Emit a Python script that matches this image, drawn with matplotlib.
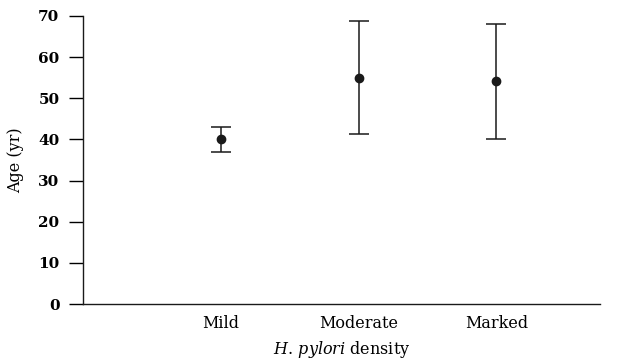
import matplotlib
matplotlib.use("Agg")
import matplotlib.pyplot as plt

categories = ["Mild", "Moderate", "Marked"]
means = [40, 55, 54.3]
upper = [43, 68.8, 68]
lower = [37, 41.2, 40]

plt.rcParams['font.family'] = ['DejaVu Serif']
plt.rcParams['mathtext.fontset'] = 'custom'
plt.rcParams['mathtext.rm'] = 'DejaVu Serif'
plt.rcParams['mathtext.it'] = 'DejaVu Serif:italic'

fig = plt.figure(figsize=(6.36, 3.62), dpi=100)
ax = fig.add_axes([0.1305, 0.16, 0.8125, 0.796])

x = list(range(1, len(categories) + 1))
yerr = [[m - l for m, l in zip(means, lower)], [u - m for u, m in zip(upper, means)]]
ax.errorbar(x, means, yerr=yerr, fmt='o', color='#1a1a1a', ms=6, elinewidth=1.1,
            capsize=7.5, capthick=1.1)

ax.set_xlim(0, 3.75)
ax.set_ylim(0, 70)
ax.set_yticks(range(0, 71, 10))
ax.set_xticks(x)
ax.set_xticklabels(categories, fontsize=11.5)
ax.tick_params(axis='x', length=0, pad=8)
ax.tick_params(axis='y', length=10, width=1, pad=7, labelsize=11)
for lab in ax.get_yticklabels():
    lab.set_fontweight('bold')
ax.spines['top'].set_visible(False)
ax.spines['right'].set_visible(False)
for s in ['left', 'bottom']:
    ax.spines[s].set_linewidth(1)
    ax.spines[s].set_color('#1a1a1a')
ax.set_ylabel('Age (yr)', fontsize=11.5, labelpad=10)
ax.set_xlabel(r'$\mathit{H.\,pylori}$ density', fontsize=11.5, labelpad=5)

fig.savefig('out.png', dpi=100)
